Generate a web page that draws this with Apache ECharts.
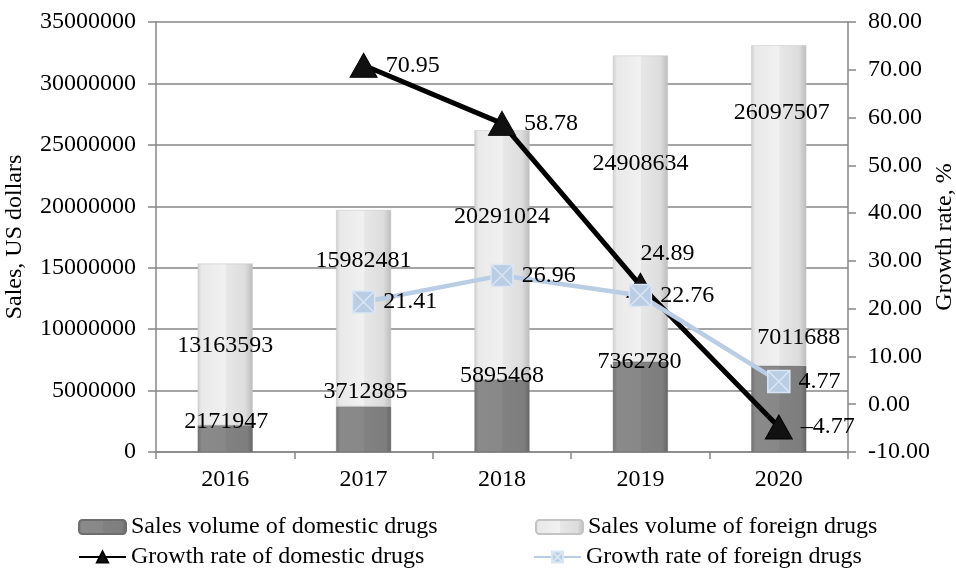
<!DOCTYPE html>
<html>
<head>
<meta charset="utf-8">
<script src="https://cdn.jsdelivr.net/npm/echarts@6/dist/echarts.min.js"></script>
<style>html,body{margin:0;padding:0;background:#fff}#c{width:956px;height:570px}</style>
</head>
<body>
<div id="c"></div>
<script>
const categories = ['2016', '2017', '2018', '2019', '2020'];
const domesticSales = [2171947, 3712885, 5895468, 7362780, 7011688];
const foreignSales = [13163593, 15982481, 20291024, 24908634, 26097507];
const domesticGrowth = [null, 70.95, 58.78, 24.89, -4.77];
const foreignGrowth = [null, 21.41, 26.96, 22.76, 4.77];
const seriesNames = ['Sales volume of domestic drugs', 'Sales volume of foreign drugs',
  'Growth rate of domestic drugs', 'Growth rate of foreign drugs'];
const salesAxis = { min: 0, max: 35000000, interval: 5000000 };
const rateAxis = { min: -10, max: 80, interval: 10 };

// label nudges (layout only)
const domesticLabelShift = [[1, 8], [2, -3], [0, 8], [-1, 12], [20, -16]];
const foreignLabelShift = [[0, 70], [0, 39], [0, 74], [0, 96], [3, 55]];

const FONT = 'Liberation Serif';
const FS = 24;
const AXIS_GRAY = '#868686';

const foreignFill = new echarts.graphic.LinearGradient(0, 0, 1, 0, [
  { offset: 0, color: '#cfcfcf' }, { offset: 0.07, color: '#e9e9e9' },
  { offset: 0.5, color: '#f1f1f1' }, { offset: 0.52, color: '#e7e7e7' },
  { offset: 0.86, color: '#dddddd' }, { offset: 1, color: '#bcbcbc' }]);
const domesticFill = new echarts.graphic.LinearGradient(0, 0, 1, 0, [
  { offset: 0, color: '#727272' }, { offset: 0.08, color: '#8a8a8a' },
  { offset: 0.5, color: '#888888' }, { offset: 0.52, color: '#818181' },
  { offset: 0.9, color: '#7e7e7e' }, { offset: 1, color: '#666666' }]);

const fmtRate = v => (v < 0 ? '\u2013' + Math.abs(v).toFixed(2) : v.toFixed(2));

const domesticData = domesticSales.map((v, i) => ({ value: v, label: { offset: domesticLabelShift[i] } }));
const foreignData = foreignSales.map((v, i) => ({ value: v, label: { offset: foreignLabelShift[i] } }));
const domGrowthData = domesticGrowth.map((v, i) => (i === 3
  ? { value: v, label: { position: 'top', offset: [27, 1] } } : v));

const squareX = 'path://M0,0L20,0L20,20L0,20Z M0,0L20,20 M20,0L0,20';

const textBase = { fontFamily: FONT, fontSize: FS, color: '#000' };

function legendItem(name, left, top) {
  return { data: [name], orient: 'horizontal', left: left, top: top,
    itemWidth: 47, itemHeight: 14, itemGap: 0, padding: 0,
    textStyle: Object.assign({ padding: [0, 0, 0, 0] }, textBase), selectedMode: false };
}

const option = {
  animation: false,
  backgroundColor: '#fff',
  textStyle: { fontFamily: FONT },
  grid: { left: 156, right: 108, top: 22, bottom: 118, outerBoundsMode: 'none', containLabel: false },
  legend: [
    legendItem(seriesNames[0], 78, 515),
    legendItem(seriesNames[2], 78, 545),
    legendItem(seriesNames[1], 535, 515),
    legendItem(seriesNames[3], 533, 545)
  ],
  xAxis: {
    type: 'category', data: categories, boundaryGap: true,
    axisLine: { lineStyle: { color: AXIS_GRAY, width: 1.5 } },
    axisTick: { show: true, length: 7, lineStyle: { color: AXIS_GRAY, width: 1.5 } },
    axisLabel: Object.assign({ margin: 16 }, textBase)
  },
  yAxis: [
    { type: 'value', min: salesAxis.min, max: salesAxis.max, interval: salesAxis.interval,
      name: 'Sales, US dollars', nameLocation: 'middle', nameRotate: 90, nameGap: 129,
      nameMoveOverlap: false,
      nameTextStyle: textBase,
      axisLine: { show: true, lineStyle: { color: AXIS_GRAY, width: 1.5 } },
      axisTick: { show: true, length: 8, lineStyle: { color: AXIS_GRAY, width: 1.5 } },
      splitLine: { show: true, lineStyle: { color: AXIS_GRAY, width: 1.5 } },
      axisLabel: Object.assign({ margin: 20, formatter: v => String(v) }, textBase) },
    { type: 'value', min: rateAxis.min, max: rateAxis.max, interval: rateAxis.interval,
      position: 'right',
      name: 'Growth rate, %', nameLocation: 'middle', nameRotate: 90, nameGap: 85,
      nameMoveOverlap: false,
      nameTextStyle: textBase,
      axisLine: { show: true, lineStyle: { color: AXIS_GRAY, width: 1.5 } },
      axisTick: { show: true, length: 8, lineStyle: { color: AXIS_GRAY, width: 1.5 } },
      splitLine: { show: false },
      axisLabel: Object.assign({ margin: 20, formatter: v => v.toFixed(2) }, textBase) }
  ],
  series: [
    { name: seriesNames[0], type: 'bar', stack: 'sales', barWidth: 55, data: domesticData,
      itemStyle: { color: domesticFill, borderColor: '#6d6d6d', borderWidth: 0.5 },
      label: Object.assign({ show: true, position: 'top', distance: 0 }, textBase), z: 2 },
    { name: seriesNames[1], type: 'bar', stack: 'sales', barWidth: 55, data: foreignData,
      itemStyle: { color: foreignFill, borderColor: '#c4c4c4', borderWidth: 0.5 },
      label: Object.assign({ show: true, position: 'insideTop', distance: 0 }, textBase), z: 2 },
    { name: seriesNames[2], type: 'line', yAxisIndex: 1, data: domGrowthData,
      symbol: 'triangle', symbolSize: [27, 24], connectNulls: false,
      lineStyle: { color: '#000', width: 5 }, itemStyle: { color: '#111', borderColor: '#000', borderWidth: 1 },
      label: Object.assign({ show: true, position: 'right', distance: 8, formatter: p => fmtRate(p.value) }, textBase),
      z: 5 },
    { name: seriesNames[3], type: 'line', yAxisIndex: 1, data: foreignGrowth,
      symbol: squareX, symbolSize: 22,
      lineStyle: { color: '#b9cde5', width: 4.5 },
      itemStyle: { color: '#b9cde5', borderColor: '#dce6f2', borderWidth: 1.5 },
      label: Object.assign({ show: true, position: 'right', distance: 8, formatter: p => fmtRate(p.value) }, textBase),
      z: 6 }
  ]
};

const chart = echarts.init(document.getElementById('c'), null, { renderer: 'canvas' });
chart.setOption(option);
</script>
</body>
</html>
